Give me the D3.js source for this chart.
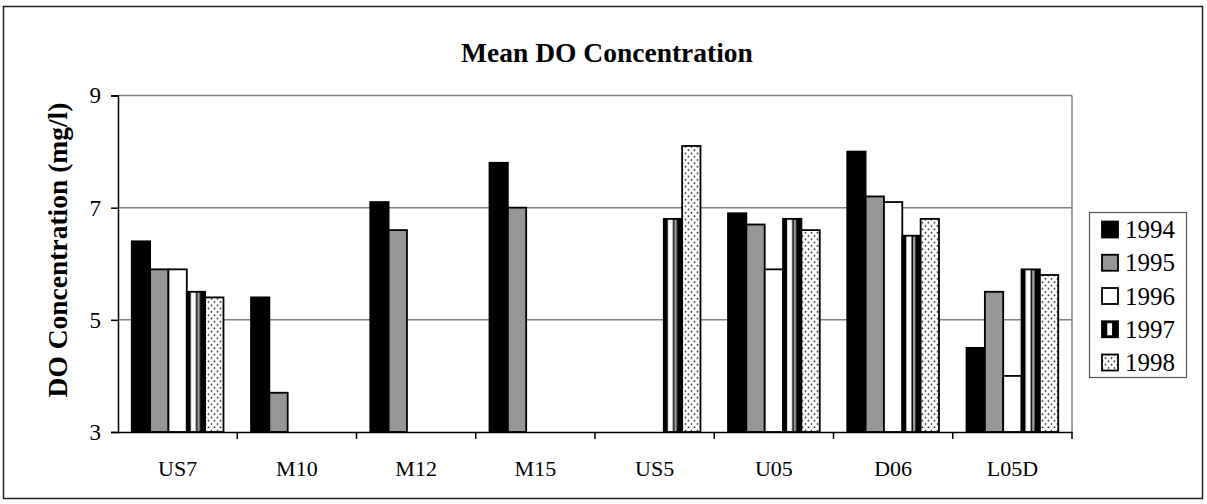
<!DOCTYPE html>
<html>
<head>
<meta charset="utf-8">
<script src="https://cdn.jsdelivr.net/npm/d3@7"></script>
<style>
  html, body { margin: 0; padding: 0; background: #fff; }
  svg { display: block; }
  text { font-family: "Liberation Serif", "Times New Roman", serif; fill: #000; }
</style>
</head>
<body>
<svg id="chart" width="1207" height="504"></svg>
<script>
// ---- data ----
const categories = ["US7", "M10", "M12", "M15", "US5", "U05", "D06", "L05D"];
const seriesNames = ["1994", "1995", "1996", "1997", "1998"];
const values1994 = [6.4, 5.4, 7.1, 7.8, null, 6.9, 8.0, 4.5];
const values1995 = [5.9, 3.7, 6.6, 7.0, null, 6.7, 7.2, 5.5];
const values1996 = [5.9, null, null, null, null, 5.9, 7.1, 4.0];
const values1997 = [5.5, null, null, null, 6.8, 6.8, 6.5, 5.9];
const values1998 = [5.4, null, null, null, 8.1, 6.6, 6.8, 5.8];
const yTicks = [3, 5, 7, 9];
const titleText = "Mean DO Concentration";
const yLabelText = "DO Concentration (mg/l)";

const seriesValues = [values1994, values1995, values1996, values1997, values1998];
const SERIF = "'Liberation Serif', 'Times New Roman', serif";

// ---- layout ----
const svg = d3.select("#chart");
const plot = { left: 118, right: 1072, top: 95.5, bottom: 432 };

const defs = svg.append("defs");
// 1997: vertical stripes, scaled to each bar
const p97 = defs.append("pattern").attr("id", "pat1997")
  .attr("patternUnits", "objectBoundingBox").attr("patternContentUnits", "objectBoundingBox")
  .attr("width", 1).attr("height", 1);
p97.append("rect").attr("x", 0).attr("y", 0).attr("width", 1).attr("height", 1).attr("fill", "#fff");
p97.append("rect").attr("x", 0).attr("y", 0).attr("width", 0.22).attr("height", 1).attr("fill", "#000");
p97.append("rect").attr("x", 0.5).attr("y", 0).attr("width", 0.1).attr("height", 1).attr("fill", "#000");
p97.append("rect").attr("x", 0.6).attr("y", 0).attr("width", 0.08).attr("height", 1).attr("fill", "#999");
p97.append("rect").attr("x", 0.7).attr("y", 0).attr("width", 0.3).attr("height", 1).attr("fill", "#000");
// legend version of 1997
const p97L = defs.append("pattern").attr("id", "pat1997L")
  .attr("patternUnits", "objectBoundingBox").attr("patternContentUnits", "objectBoundingBox")
  .attr("width", 1).attr("height", 1);
p97L.append("rect").attr("x", 0).attr("y", 0).attr("width", 1).attr("height", 1).attr("fill", "#000");
p97L.append("rect").attr("x", 0.33).attr("y", 0.12).attr("width", 0.3).attr("height", 0.76).attr("fill", "#fff");
// 1998: dots
const p98 = defs.append("pattern").attr("id", "pat1998")
  .attr("patternUnits", "userSpaceOnUse").attr("width", 6).attr("height", 6.6);
p98.append("rect").attr("width", 6).attr("height", 6.6).attr("fill", "#fff");
p98.append("circle").attr("cx", 1.5).attr("cy", 1.6).attr("r", 0.95).attr("fill", "#333");
p98.append("circle").attr("cx", 4.5).attr("cy", 4.9).attr("r", 0.95).attr("fill", "#333");

const fills = ["#000000", "#969696", "#ffffff", "url(#pat1997)", "url(#pat1998)"];
const legendFills = ["#000000", "#969696", "#ffffff", "url(#pat1997L)", "url(#pat1998)"];

// outer border
svg.append("rect").attr("x", 3.5).attr("y", 6.5).attr("width", 1199).attr("height", 492)
  .attr("fill", "#fff").attr("stroke", "#222").attr("stroke-width", 1.5);

// scales (Excel gap width 150%: bar = band / 6.5, group offset = 0.75 bar)
const x0 = d3.scaleBand().domain(categories).range([plot.left, plot.right]).padding(0);
const barW = x0.bandwidth() / 6.5;
const x1 = d3.scaleBand().domain(seriesNames).range([0.75 * barW, 5.75 * barW]).padding(0);
const y = d3.scaleLinear().domain([3, 9]).range([plot.bottom, plot.top]);

// gridlines
svg.append("g").selectAll("line").data(yTicks.filter(d => d > 3)).join("line")
  .attr("x1", plot.left).attr("x2", plot.right)
  .attr("y1", d => y(d)).attr("y2", d => y(d))
  .attr("stroke", "#808080").attr("stroke-width", 1.5);
// right plot border
svg.append("line").attr("x1", plot.right).attr("x2", plot.right)
  .attr("y1", plot.top).attr("y2", plot.bottom).attr("stroke", "#808080").attr("stroke-width", 1.5);

// bars
const barData = [];
seriesValues.forEach((arr, si) => arr.forEach((v, ci) => {
  if (v !== null) barData.push({ s: seriesNames[si], si, c: categories[ci], v });
}));
svg.append("g").selectAll("rect").data(barData).join("rect")
  .attr("x", d => x0(d.c) + x1(d.s))
  .attr("y", d => y(d.v))
  .attr("width", x1.bandwidth())
  .attr("height", d => y(3) - y(d.v))
  .attr("fill", d => fills[d.si])
  .attr("stroke", "#000").attr("stroke-width", 1.8);

// axes
const yAxis = d3.axisLeft(y).tickValues(yTicks).tickSize(7).tickPadding(10).tickFormat(d3.format("d"));
const gy = svg.append("g").attr("transform", `translate(${plot.left},0)`).call(yAxis)
  .attr("font-family", SERIF);
gy.select(".domain").attr("stroke", "#000").attr("stroke-width", 1.5);
gy.selectAll(".tick line").attr("stroke", "#000").attr("stroke-width", 1.5);
gy.selectAll(".tick text").attr("font-size", 23).attr("font-family", SERIF).attr("fill", "#000");

const xAxis = d3.axisBottom(x0).tickSize(0).tickPadding(0);
const gx = svg.append("g").attr("transform", `translate(0,${plot.bottom})`).call(xAxis)
  .attr("font-family", SERIF);
gx.select(".domain").attr("stroke", "#000").attr("stroke-width", 1.5);
gx.selectAll(".tick text").attr("font-size", 22).attr("font-family", SERIF)
  .attr("fill", "#000").attr("dy", null).attr("y", 44);
// category boundary ticks
gx.append("g").selectAll("line").data(categories).join("line")
  .attr("x1", d => x0(d) + x0.bandwidth())
  .attr("x2", d => x0(d) + x0.bandwidth())
  .attr("y1", 0).attr("y2", 7).attr("stroke", "#000").attr("stroke-width", 1.5);

// title
svg.append("text").attr("x", 607).attr("y", 62).attr("text-anchor", "middle")
  .attr("font-family", SERIF).attr("font-size", 27.5).attr("font-weight", "bold").text(titleText);
// y label
svg.append("text").attr("transform", "translate(67,250) rotate(-90)").attr("text-anchor", "middle")
  .attr("font-family", SERIF).attr("font-size", 27.5).attr("font-weight", "bold").text(yLabelText);

// legend
const lg = svg.append("g");
lg.append("rect").attr("x", 1089.5).attr("y", 212.5).attr("width", 97).attr("height", 165)
  .attr("fill", "#fff").attr("stroke", "#555").attr("stroke-width", 1.2);
const ly = d3.scalePoint().domain(seriesNames).range([229.5, 362.5]);
const items = lg.selectAll("g.item").data(seriesNames).join("g").attr("class", "item");
items.append("rect").attr("x", 1102).attr("y", d => ly(d) - 8).attr("width", 16).attr("height", 16)
  .attr("fill", (d, i) => legendFills[i]).attr("stroke", "#000").attr("stroke-width", 1.8);
items.append("text").attr("x", 1125).attr("y", d => ly(d) + 8.5)
  .attr("font-family", SERIF).attr("font-size", 25).text(d => d);
</script>
</body>
</html>
